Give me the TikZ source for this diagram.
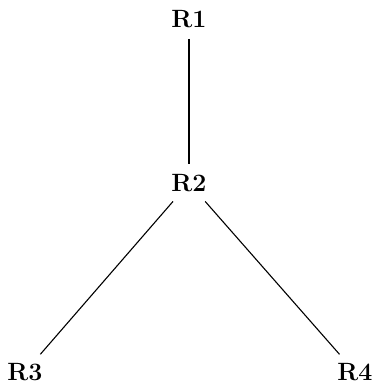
\documentclass[tikz,border=0pt]{standalone}
\usepackage{fontspec}
\usepackage{tikz}
\usetikzlibrary{positioning}

\begin{document}
\begin{tikzpicture}[
    x=1pt, y=-1pt,
    region/.style={font=\fontsize{25}{28}\selectfont\bfseries, inner sep=5pt},
    link/.style={line width=1.1pt, shorten >=5pt, shorten <=6pt}
]
\useasboundingbox (0,0) rectangle (376,388);

% Regions
\node[region] (r1) at (189, 19) {R1};
\node[region] (r2) at (189, 183) {R2};
\node[region] (r3) at (25, 372) {R3};
\node[region] (r4) at (355, 372) {R4};

% Links
\draw[link] (r1) -- (r2);
\draw[link] (r2) -- (r3);
\draw[link] (r2) -- (r4);

\end{tikzpicture}
\end{document}
